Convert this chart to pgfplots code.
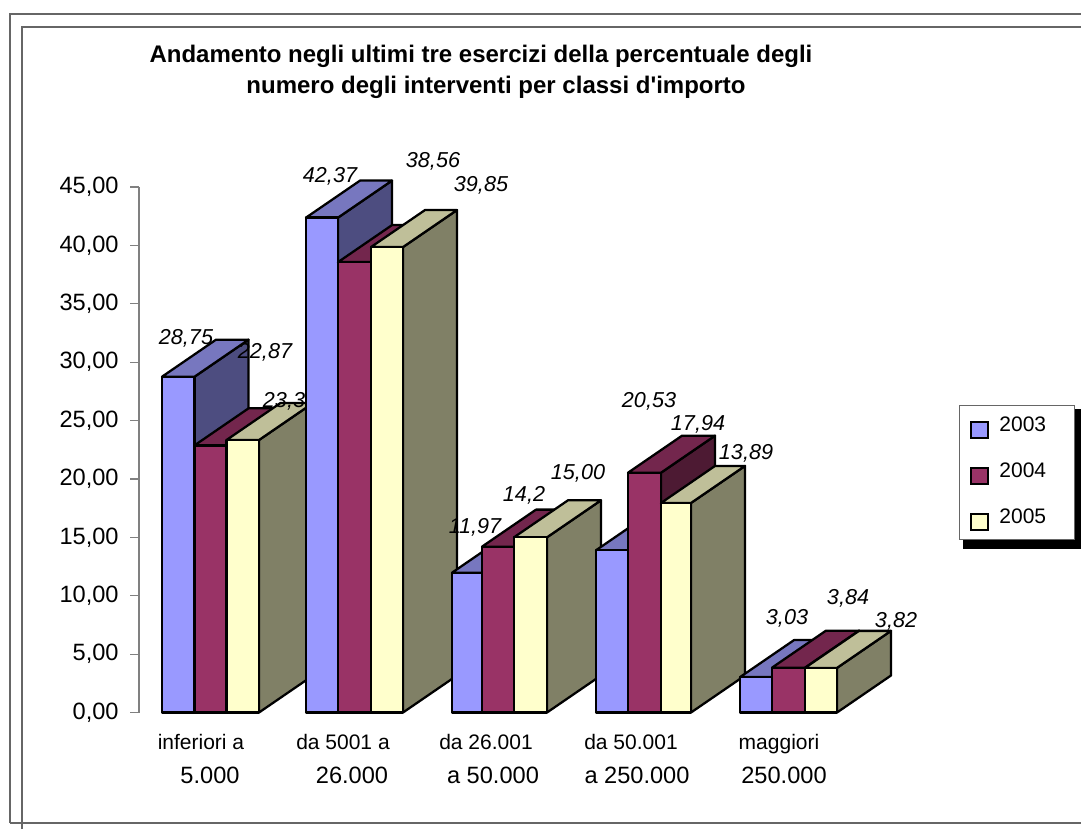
\documentclass[border=0pt]{standalone}
\usepackage{fontspec}
\setmainfont{Liberation Sans}
\newfontfamily\plainf{Liberation Sans}
\usepackage{pgfplots}
\pgfplotsset{compat=1.18}
\definecolor{fa}{HTML}{9999FF}\definecolor{ta}{HTML}{7777BF}\definecolor{sa}{HTML}{4D4D80}
\definecolor{fb}{HTML}{993366}\definecolor{tb}{HTML}{73264D}\definecolor{sb}{HTML}{4D1A33}
\definecolor{fc}{HTML}{FFFFCC}\definecolor{tc}{HTML}{BFBF99}\definecolor{sc}{HTML}{808066}
\definecolor{fr}{HTML}{666666}
% one 3D bar: x left, x right, value, colours a/b/c
\newcommand{\tdbar}[4]{%
  \pgfmathsetmacro\xa{#1+54}\pgfmathsetmacro\xb{#2+54}\pgfmathsetmacro\yb{#3+3.17}%
  \addplot[forget plot,fill=s#4,draw=black,line width=1.7pt,line join=round] coordinates {(#2,0)(\xb,3.17)(\xb,\yb)(#2,#3)} -- cycle;
  \addplot[forget plot,fill=t#4,draw=black,line width=1.7pt,line join=round] coordinates {(#1,#3)(\xa,\yb)(\xb,\yb)(#2,#3)} -- cycle;
  \addplot[forget plot,fill=f#4,draw=black,line width=1.7pt,line join=round] coordinates {(#1,0)(#2,0)(#2,#3)(#1,#3)} -- cycle;
}
\newcommand{\vl}[3]{\node[font=\fontsize{16.2}{18}\selectfont\itshape,inner sep=0pt,yshift=-0.75pt] at (axis cs:#1,#2) {#3};}
\begin{document}
\begin{tikzpicture}[x=0.75pt,y=-0.75pt]
\path[use as bounding box] (0,0) rectangle (1081,829);
\draw[fr,line width=0.9pt] (10,823)--(10,14)--(1081,14);
\draw[fr,line width=0.9pt] (10,823)--(1081,823);
\draw[fr,line width=0.9pt] (22,829)--(22,27)--(1081,27);
\fill[black] (963,409) rectangle (1081,549);
\node[font=\plainf\fontsize{18}{20}\selectfont\bfseries] at (481,56.5) {Andamento negli ultimi tre esercizi della percentuale degli};
\node[font=\plainf\fontsize{18}{20}\selectfont\bfseries] at (496,87) {numero degli interventi per classi d'importo};
\begin{axis}[
  at={(104.25pt,-534.375pt)},anchor=south west,scale only axis,
  width=600pt,height=394.2pt,
  xmin=139,xmax=939,ymin=0,ymax=45,clip=false,
  axis y line=left,axis x line=bottom,
  axis line style={-},
  x axis line style={draw=none},
  y axis line style={draw=gray,line width=0.9pt},
  ytick={0,5,...,45},
  tick align=outside,
  ytick style={draw=gray,line width=0.9pt},
  major tick length=6.75pt,
  xtick style={draw=none},
  yticklabel style={font=\fontsize{17.7}{20}\selectfont,xshift=-5pt,/pgf/number format/.cd,fixed,fixed zerofill,precision=2,use comma,assume math mode=true},
  xtick={201,343,486,631,779},
  xticklabels={inferiori a,da 5001 a,da 26.001,da 50.001,maggiori},
  xticklabel style={font=\fontsize{15.75}{18}\selectfont,yshift=-6pt},
  extra x ticks={210,352,493,637,784},
  extra x tick labels={5.000,26.000,a 50.000,a 250.000,250.000},
  extra x tick style={xticklabel style={font=\fontsize{17.7}{20}\selectfont,yshift=-24.75pt},tick style={draw=none}},
  legend style={at={(1.0246,0.5856)},anchor=north west,draw=fr,fill=white,line width=0.8pt,
    font=\fontsize{15.75}{18}\selectfont,row sep=16.3pt,inner xsep=8pt,inner ysep=6.75pt},
  legend cell align=left,
  legend image code/.code={\draw[#1,line width=1.5pt] (0pt,-9.2pt) rectangle (13pt,2.8pt);\path (19pt,0pt);},
]
\addlegendimage{fill=fa,draw=black}
\addlegendimage{fill=fb,draw=black}
\addlegendimage{fill=fc,draw=black}
\legend{2003\hspace{11.5pt},2004\hspace{11.5pt},2005\hspace{11.5pt}\rule[-11.85pt]{0pt}{1pt}}
\tdbar{162}{194.5}{28.75}{a}
\vl{186}{32.15}{28,75}
\tdbar{194.5}{226.5}{22.87}{b}
\vl{265}{30.95}{22,87}
\tdbar{226.5}{259}{23.33}{c}
\vl{284}{26.76}{23,3}
\tdbar{306}{338}{42.37}{a}
\vl{330}{46.02}{42,37}
\tdbar{338}{371}{38.56}{b}
\vl{433}{47.3}{38,56}
\tdbar{371}{403}{39.85}{c}
\vl{481}{45.25}{39,85}
\tdbar{452}{482}{11.97}{a}
\vl{475}{15.9}{11,97}
\tdbar{482}{514}{14.2}{b}
\vl{524}{18.7}{14,2}
\tdbar{514}{547}{15.0}{c}
\vl{578}{20.6}{15,00}
\tdbar{596}{628}{13.89}{a}
\vl{649}{26.76}{20,53}
\tdbar{628}{661}{20.53}{b}
\vl{698}{24.79}{17,94}
\tdbar{661}{691}{17.94}{c}
\vl{746}{22.3}{13,89}
\tdbar{740}{772}{3.03}{a}
\vl{787}{8.18}{3,03}
\tdbar{772}{805}{3.84}{b}
\vl{848}{9.89}{3,84}
\tdbar{805}{837}{3.82}{c}
\vl{896}{7.92}{3,82}
\end{axis}
\end{tikzpicture}
\end{document}
